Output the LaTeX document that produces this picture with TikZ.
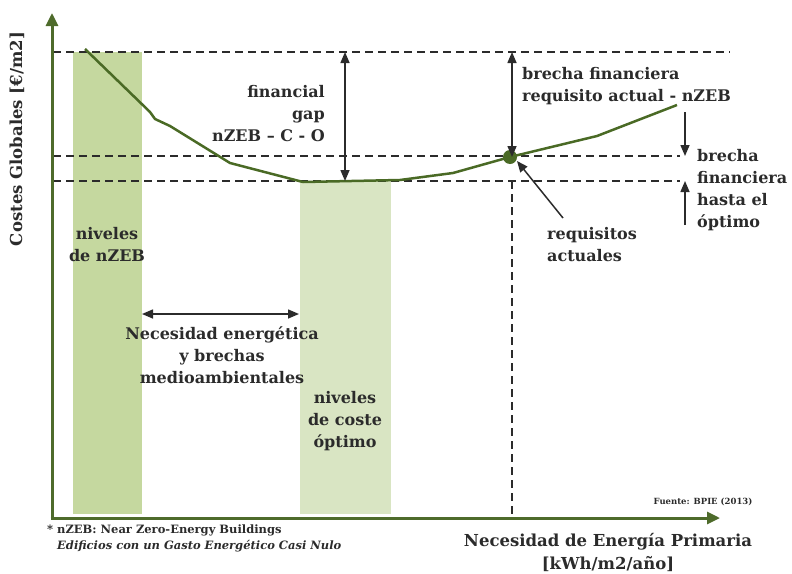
\documentclass[tikz,border=0pt]{standalone}
\usepackage{fontspec}
\setmainfont{DejaVu Serif}
\usetikzlibrary{arrows.meta}
\definecolor{axisgreen}{HTML}{4E6B2B}
\definecolor{curvegreen}{HTML}{4A6A25}
\definecolor{bandnzeb}{HTML}{C5D89F}
\definecolor{bandopt}{HTML}{D9E5C3}
\definecolor{inkgray}{HTML}{2B2B2B}
\begin{document}
\begin{tikzpicture}[x=1pt,y=-1pt]
	\tikzstyle{txt}=[font=\bfseries\fontsize{16}{22}\selectfont,text=inkgray,align=center,inner sep=0pt]
	\tikzstyle{axis}=[draw=axisgreen,line width=3pt,-{Triangle[length=13pt,width=12pt]}]
	\tikzstyle{dashline}=[draw=inkgray,line width=1.8pt,dash pattern=on 8pt off 5pt]
	\tikzstyle{gap}=[draw=inkgray,line width=1.5pt,{Triangle[length=11pt,width=9pt]}-{Triangle[length=11pt,width=9pt]}]
	\tikzstyle{onegap}=[draw=inkgray,line width=1.5pt,-{Triangle[length=11pt,width=9pt]}]
	\useasboundingbox (0,0) rectangle (792,573);
	% bands
	\fill[bandnzeb] (73,52) rectangle (142,514);
	\fill[bandopt] (300,181) rectangle (391,514);
	% dashed levels
	\coordinate (nzebL) at (53,52);
	\coordinate (nzebR) at (730,52);
	\coordinate (actL) at (53,156);
	\coordinate (actR) at (680,156);
	\coordinate (optL) at (53,181);
	\coordinate (optR) at (680,181);
	\draw[dashline] (nzebL) -- (nzebR);
	\draw[dashline] (actL) -- (actR);
	\draw[dashline] (optL) -- (optR);
	\coordinate (reqtop) at (512,181);
	\coordinate (reqbot) at (512,518);
	\draw[dashline] (reqtop) -- (reqbot);
	% axes
	\coordinate (origin) at (52,518);
	\coordinate (yend) at (52,13);
	\coordinate (xend) at (720,518);
	\draw[axis] (origin) -- (yend);
	\draw[axis] ([xshift=-1.5pt]origin) -- (xend);
	% cost curve
	\draw[curvegreen,line width=2.5pt,line join=round]
		(85,49) -- (150,112) -- (155,119) -- (170,126) -- (230,163) -- (303,182)
		-- (400,180) -- (453,173) -- (510,157) -- (597,136) -- (677,105);
	\node[circle,fill=curvegreen,minimum size=14pt,inner sep=0pt] (dot) at (510,157) {};
	% gap arrows
	\coordinate (fgtop) at (345,52);
	\coordinate (fgbot) at (345,181);
	\draw[gap] (fgtop) -- (fgbot);
	\coordinate (bftop) at (512,52);
	\coordinate (bfbot) at (512,157);
	\draw[gap] (bftop) -- (bfbot);
	\coordinate (hotop) at (685,112);
	\coordinate (hoact) at (685,156);
	\coordinate (hobot) at (685,225);
	\coordinate (hoopt) at (685,181);
	\draw[onegap] (hotop) -- (hoact);
	\draw[onegap] (hobot) -- (hoopt);
	\coordinate (envL) at (142,314);
	\coordinate (envR) at (299,314);
	\draw[gap] (envL) -- (envR);
	\coordinate (reqtail) at (563,218);
	\draw[onegap] (reqtail) -- (517,161);
	% labels
	\node[txt,anchor=east,align=right] (fingap) at (325,114) {financial\\gap\\nZEB – C - O};
	\node[txt,anchor=west,align=left] (brecha) at (522,86) {brecha financiera\\requisito actual - nZEB};
	\node[txt,anchor=west,align=left] (hasta) at (697,190) {brecha\\financiera\\hasta el\\óptimo};
	\node[txt,anchor=west,align=left] (req) at (547,245) {requisitos\\actuales};
	\node[txt] (nivnzeb) at (107,245) {niveles\\de nZEB};
	\node[txt] (necesidad) at (222,355) {Necesidad energética\\y brechas\\medioambientales};
	\node[txt] (nivopt) at (345,421) {niveles\\de coste\\óptimo};
	\node[txt,font=\bfseries\fontsize{8.5}{10}\selectfont] (fuente) at (703,502) {Fuente: BPIE (2013)};
	\node[txt,anchor=north west,align=left,font=\bfseries\fontsize{11.5}{16}\selectfont] (nota) at (47,525)
		{* nZEB: Near Zero-Energy Buildings\\\hspace*{10pt}\itshape Edificios con un Gasto Energético Casi Nulo};
	\node[txt,font=\bfseries\fontsize{16.5}{23}\selectfont] (xlabel) at (608,552) {Necesidad de Energía Primaria\\{}[kWh/m2/año]};
	\node[txt,rotate=90,font=\bfseries\fontsize{16.5}{20}\selectfont] (ylabel) at (17,139) {Costes Globales [€/m2]};
\end{tikzpicture}
\end{document}
